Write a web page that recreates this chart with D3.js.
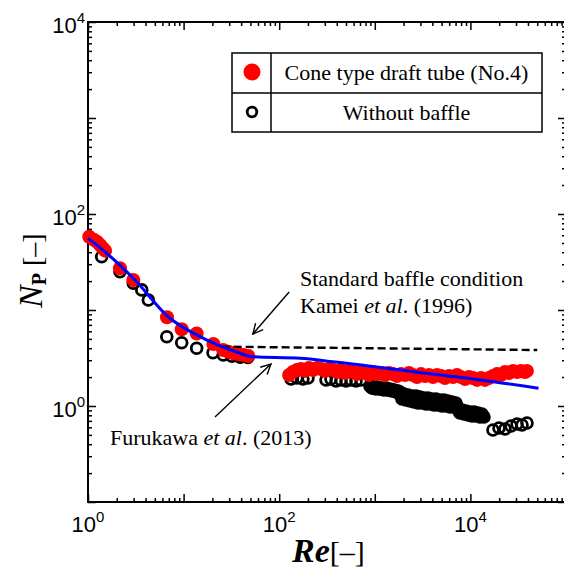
<!DOCTYPE html>
<html><head><meta charset="utf-8">
<script src="https://cdn.jsdelivr.net/npm/d3@7"></script>
<style>
html,body{margin:0;padding:0;background:#fff;}
svg{display:block;}
</style></head>
<body>
<svg id="chart" width="564" height="572"></svg>
<script>
// ---------- DATA ----------
const xDomain = [1, 1e5];
const yDomain = [0.1, 1e4];
const xMajorTicks = [1, 10, 100, 1e3, 1e4, 1e5];
const yMajorTicks = [0.1, 1, 10, 100, 1e3, 1e4];
const xTickLabels = [[1, "0"], [100, "2"], [1e4, "4"]];
const yTickLabels = [[1, "0"], [100, "2"], [1e4, "4"]];

// Cone type draft tube (No.4) : Re, Np
const coneRe = [1.03,1.15,1.25,1.34,1.43,1.51,2.16,2.98,6.7,9.55,13.7,20.5,26,29.4,33.1,37.4,42.2,47.5,
  127,139,153,169,186,205,226,249,274,301,332,366,403,443,488,537,592,652,718,790,869,957,1054,1161,1279,1408,1549,1706,1879,2069,2278,2510,2762,3041,3350,3689,4064,4477,4930,5420,5970,6577,7244,7980,8790,9660,10640,11720,12910,14220,15660,17220,18970,20890,23010,25350,27920,30750,33810,37240,39000];
const coneNp = [58,54,51,47.5,44,41.5,27.2,20.5,8.4,6.3,5.7,4.42,3.83,3.68,3.54,3.46,3.4,3.32,
  2.10,2.26,2.37,2.43,2.32,2.49,2.37,2.49,2.43,2.32,2.43,2.37,2.26,2.37,2.21,2.32,2.26,2.15,2.26,2.21,2.10,2.26,2.15,2.21,2.10,2.21,2.15,2.05,2.15,2.10,2.21,2.10,2.00,2.15,2.05,2.10,2.00,2.10,2.05,1.96,2.05,2.00,2.10,2.00,1.91,2.00,1.96,1.87,1.96,1.87,1.96,2.05,2.15,2.10,2.26,2.21,2.32,2.26,2.32,2.26,2.32];

// Without baffle : Re, Np
const noBaffleRe = [1.39,2.16,2.98,3.65,4.28,6.67,9.55,13.7,20.3,26,32,39,47,
  133,153,177,200,309,348,393,443,500,564,636,718,
  891,935,981,1030,1080,1133,1189,1248,1309,1374,1442,1514,1588,1667,1749,
  912,957,1005,1054,1106,1161,1218,1279,1342,1408,1477,1549,1626,1706,1790,
  1836,1927,2020,2120,2225,2335,2450,2570,2698,2830,2970,3118,3273,3435,3600,3780,3965,4160,4365,4580,4808,5045,5295,5560,5830,6120,6425,6735,7065,
  1879,1972,2069,2172,2278,2392,2510,2634,2762,2899,3041,3192,3350,3515,3689,3871,4064,4264,4477,4698,4930,5170,5420,5690,5970,6265,6577,6900,7244,
  7420,7780,8170,8570,8990,9440,9910,10400,10910,11450,12000,12590,13210,13870,
  7600,7980,8370,8790,9210,9660,10140,10640,11170,11720,12300,12910,13550,
  17220,19910,23010,26600,30750,34670,39080];
const noBaffleNp = [35.9,25,19,16.2,12.7,5.27,4.56,3.99,3.59,3.4,3.3,3.23,3.2,
  1.91,1.96,1.91,1.96,1.87,1.91,1.82,1.87,1.82,1.87,1.82,1.87,
  1.62,1.54,1.578,1.503,1.578,1.503,1.54,1.47,1.54,1.47,1.503,1.433,1.47,1.40,1.433,
  1.578,1.54,1.54,1.54,1.54,1.503,1.503,1.503,1.503,1.47,1.47,1.47,1.433,1.433,1.40,
  1.40,1.183,1.33,1.155,1.302,1.127,1.27,1.10,1.27,1.074,1.241,1.074,1.21,1.05,1.21,1.05,1.183,1.024,1.183,1.024,1.155,1.0,1.155,1.0,1.127,0.976,1.10,0.976,1.074,
  1.27,1.241,1.241,1.21,1.21,1.183,1.183,1.183,1.155,1.155,1.155,1.127,1.127,1.127,1.127,1.10,1.10,1.10,1.10,1.074,1.074,1.074,1.074,1.05,1.05,1.05,1.024,1.024,1.0,
  0.931,0.846,0.909,0.826,0.887,0.806,0.866,0.787,0.866,0.787,0.846,0.768,0.826,0.768,
  0.887,0.866,0.866,0.846,0.846,0.826,0.826,0.826,0.826,0.806,0.806,0.806,0.787,
  0.562,0.59,0.576,0.619,0.649,0.634,0.665];

// Furukawa et al. (2013) correlation
const furukawaRe = [1,1.57,2.98,7.2,13.7,24,39,52,166,367,2500,12700,51600];
const furukawaNp = [55.8,39,21.4,8.2,5.5,4.22,3.54,3.26,3.14,2.89,2.28,1.87,1.53];

// Kamei et al. (1996) standard baffle condition
const kameiRe = [25, 50000];
const kameiNp = [4.15, 3.83];

// Annotation arrows [Re, Np] start -> end
const arrowKamei = [[127, 15.4], [53, 5.62]];
const arrowFurukawa = [[21.3, 0.768], [82, 2.74]];

// ---------- DRAW ----------
const svg = d3.select("#chart");
const x = d3.scaleLog().domain(xDomain).range([88, 566]);
const y = d3.scaleLog().domain(yDomain).range([502, 22]);
const serif = "'Liberation Serif','Times New Roman',serif";
const sans = "'Liberation Sans',Arial,sans-serif";

function minors(majors){
  const out=[];
  majors.slice(0,-1).forEach(d=>{for(let k=2;k<=9;k++) out.push(d*k);});
  return out;
}
const xMinor = minors(xMajorTicks), yMinor = minors(yMajorTicks);

function axis(gen, scale, vals, size, tr){
  const g = svg.append("g").attr("transform", tr)
    .call(gen(scale).tickValues(vals).tickSize(-size).tickFormat(""));
  g.select(".domain").remove();
  g.selectAll(".tick line").attr("stroke","#000").attr("stroke-width",1.5);
}
axis(d3.axisBottom, x, xMajorTicks, 8, "translate(0,502)");
axis(d3.axisBottom, x, xMinor, 4, "translate(0,502)");
axis(d3.axisTop, x, xMajorTicks, 8, "translate(0,22)");
axis(d3.axisTop, x, xMinor, 4, "translate(0,22)");
axis(d3.axisLeft, y, yMajorTicks, 8, "translate(88,0)");
axis(d3.axisLeft, y, yMinor, 4, "translate(88,0)");
axis(d3.axisRight, y, yMajorTicks, 8, "translate(566,0)");
axis(d3.axisRight, y, yMinor, 4, "translate(566,0)");

svg.append("rect").attr("x",88).attr("y",22).attr("width",478).attr("height",480)
  .attr("fill","none").attr("stroke","#000").attr("stroke-width",2);

// tick labels
xTickLabels.forEach(([v,e])=>{
  const t = svg.append("text").attr("x", x(v)).attr("y", 532)
    .attr("text-anchor","middle").attr("font-family",sans).attr("font-size",22);
  t.append("tspan").text("10");
  t.append("tspan").attr("dy",-10).attr("font-size",15).text(e);
});
yTickLabels.forEach(([v,e])=>{
  const t = svg.append("text").attr("x", 85).attr("y", y(v)+11)
    .attr("text-anchor","end").attr("font-family",sans).attr("font-size",22);
  t.append("tspan").text("10");
  t.append("tspan").attr("dy",-10).attr("font-size",15).text(e);
});

// points: without baffle (open black) first, then cone (red)
const nb = noBaffleRe.map((r,i)=>[r,noBaffleNp[i]]);
svg.append("g").selectAll("circle").data(nb).join("circle")
  .attr("cx",d=>x(d[0])).attr("cy",d=>y(d[1])).attr("r",5.4)
  .attr("fill","none").attr("stroke","#000").attr("stroke-width",2.8);
const cone = coneRe.map((r,i)=>[r,coneNp[i]]);
svg.append("g").selectAll("circle").data(cone).join("circle")
  .attr("cx",d=>x(d[0])).attr("cy",d=>y(d[1])).attr("r",7)
  .attr("fill","#ff0000");

// Kamei dashed line
svg.append("path").datum(kameiRe.map((r,i)=>[r,kameiNp[i]]))
  .attr("d", d3.line().x(d=>x(d[0])).y(d=>y(d[1])))
  .attr("fill","none").attr("stroke","#000").attr("stroke-width",2.4)
  .attr("stroke-dasharray","8,4");

// Furukawa blue curve
svg.append("path").datum(furukawaRe.map((r,i)=>[r,furukawaNp[i]]))
  .attr("d", d3.line().x(d=>x(d[0])).y(d=>y(d[1])).curve(d3.curveMonotoneX))
  .attr("fill","none").attr("stroke","#0000ff").attr("stroke-width",3);

// arrows
svg.append("defs").append("marker").attr("id","ah").attr("viewBox","0 0 12 12")
  .attr("refX",11).attr("refY",6).attr("markerWidth",12).attr("markerHeight",12)
  .attr("markerUnits","userSpaceOnUse").attr("orient","auto")
  .append("path").attr("d","M1,1 L11,6 L1,11").attr("fill","none")
  .attr("stroke","#000").attr("stroke-width",1.4);
[arrowKamei, arrowFurukawa].forEach(a=>{
  svg.append("line").attr("x1",x(a[0][0])).attr("y1",y(a[0][1]))
    .attr("x2",x(a[1][0])).attr("y2",y(a[1][1]))
    .attr("stroke","#000").attr("stroke-width",1.4).attr("marker-end","url(#ah)");
});

// annotation texts
function annot(xp, yp, parts){
  const t = svg.append("text").attr("x",xp).attr("y",yp)
    .attr("font-family",serif).attr("font-size",22).attr("fill","#000");
  parts.forEach(p=>{
    const s = t.append("tspan").text(p[0]);
    if(p[1]) s.attr("font-style","italic");
  });
}
annot(300, 286, [["Standard baffle condition"]]);
annot(300, 313, [["Kamei "],["et al","i"],[". (1996)"]]);
annot(110, 445, [["Furukawa "],["et al","i"],[". (2013)"]]);

// legend
const lg = svg.append("g");
lg.append("rect").attr("x",232).attr("y",53).attr("width",310).attr("height",79)
  .attr("fill","#fff").attr("stroke","#000").attr("stroke-width",1.5);
lg.append("line").attr("x1",232).attr("x2",542).attr("y1",93).attr("y2",93)
  .attr("stroke","#000").attr("stroke-width",1.5);
lg.append("line").attr("x1",271).attr("x2",271).attr("y1",53).attr("y2",132)
  .attr("stroke","#000").attr("stroke-width",1.5);
lg.append("circle").attr("cx",252).attr("cy",72).attr("r",8.5).attr("fill","#ff0000");
lg.append("circle").attr("cx",252).attr("cy",112).attr("r",4.8).attr("fill","none")
  .attr("stroke","#000").attr("stroke-width",2.8);
lg.append("text").attr("x",406.5).attr("y",80).attr("text-anchor","middle")
  .attr("font-family",serif).attr("font-size",22).text("Cone type draft tube (No.4)");
lg.append("text").attr("x",406.5).attr("y",120).attr("text-anchor","middle")
  .attr("font-family",serif).attr("font-size",22).text("Without baffle");

// axis titles
const yl = svg.append("text").attr("transform","translate(42,308) rotate(-90)")
  .attr("text-anchor","start").attr("font-family",serif).attr("font-size",34);
yl.append("tspan").attr("font-style","italic").text("N");
yl.append("tspan").attr("font-size",20).attr("dy",4).attr("font-weight","bold").text("P");
yl.append("tspan").attr("dy",-4).attr("font-size",28).text(" [–]");

const xl = svg.append("text").attr("x",292).attr("y",562)
  .attr("text-anchor","start").attr("font-family",serif);
xl.append("tspan").attr("font-style","italic").attr("font-weight","bold").attr("font-size",34).text("Re");
xl.append("tspan").attr("font-size",30).text("[–]");
</script>
</body></html>
